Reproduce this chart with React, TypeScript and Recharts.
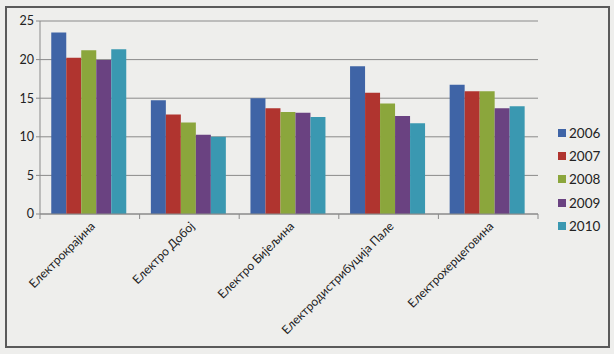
import { Bar, BarChart, CartesianGrid, XAxis, YAxis } from "recharts";

const CATEGORIES = [
  "Електрокрајина",
  "Електро Добој",
  "Електро Бијељина",
  "Електродистрибуција Пале",
  "Електрохерцеговина",
];

const YEARS = ["2006", "2007", "2008", "2009", "2010"];

const V2006 = [23.5, 14.75, 15.0, 19.15, 16.75];
const V2007 = [20.25, 12.9, 13.7, 15.7, 15.9];
const V2008 = [21.2, 11.85, 13.2, 14.3, 15.9];
const V2009 = [19.95, 10.25, 13.1, 12.7, 13.7];
const V2010 = [21.35, 10.0, 12.55, 11.75, 13.95];

const Y_TICKS = [0, 5, 10, 15, 20, 25];

const COLORS = ["#3f64a6", "#b0342f", "#8ba63c", "#6a4281", "#3a98b1"];

const SERIES = [V2006, V2007, V2008, V2009, V2010];

const data = CATEGORIES.map((name, i) => {
  const row: Record<string, string | number> = { name };
  YEARS.forEach((y, s) => {
    row[y] = SERIES[s][i];
  });
  return row;
});

const W = 614;
const H = 354;
const MARGIN = { top: 21, right: 76, bottom: 0, left: 10 };
const Y_WIDTH = 30;
const PLOT_W = W - MARGIN.left - MARGIN.right - Y_WIDTH;
const BAND = PLOT_W / CATEGORIES.length;

const AXIS = "#8a8a8a";
const FONT = "Lato, 'DejaVu Sans', sans-serif";

function CategoryTick(props: any) {
  const { x, y, payload, index } = props;
  const left = x - BAND / 2;
  const tx = x + 6;
  const ty = y + 5;
  return (
    <g>
      <line x1={left} x2={left} y1={y - 8} y2={y - 3} stroke={AXIS} />
      {index === CATEGORIES.length - 1 && (
        <line x1={x + BAND / 2} x2={x + BAND / 2} y1={y - 8} y2={y - 3} stroke={AXIS} />
      )}
      <text
        x={tx}
        y={ty}
        textAnchor="end"
        fontSize={12}
        fill="#222"
        fontFamily={FONT}
        transform={`rotate(-45 ${tx} ${ty})`}
      >
        {payload.value}
      </text>
    </g>
  );
}

export default function App() {
  return (
    <div
      style={{
        position: "absolute",
        left: 0,
        top: 0,
        width: W,
        height: H,
        background: "#eeeeec",
        fontFamily: FONT,
      }}
    >
      <div
        style={{
          position: "absolute",
          left: 5,
          top: 6,
          width: 601,
          height: 338,
          border: "2px solid #5a5a5a",
        }}
      />
      <div style={{ position: "absolute", left: 0, top: 0 }}>
        <BarChart
          width={W}
          height={H}
          data={data}
          margin={MARGIN}
          barCategoryGap="11.3%"
          barGap={0}
        >
          <CartesianGrid stroke={AXIS} vertical={false} />
          <XAxis
            dataKey="name"
            interval={0}
            height={140}
            tickLine={false}
            axisLine={{ stroke: AXIS }}
            tick={<CategoryTick />}
          />
          <YAxis
            width={Y_WIDTH}
            domain={[0, 25]}
            ticks={Y_TICKS}
            tickSize={4}
            tickLine={{ stroke: AXIS }}
            axisLine={{ stroke: AXIS }}
            tick={{ fontSize: 12.5, fill: "#222", fontFamily: FONT }}
          />
          {YEARS.map((y, s) => (
            <Bar key={y} dataKey={y} fill={COLORS[s]} isAnimationActive={false} />
          ))}
        </BarChart>
      </div>
      <div style={{ position: "absolute", left: 558, top: 121 }}>
        {YEARS.map((y, s) => (
          <div
            key={y}
            style={{ display: "flex", alignItems: "center", height: 23.4, fontSize: 13.5, color: "#222" }}
          >
            <span
              style={{ width: 8, height: 8, background: COLORS[s], marginRight: 3, display: "inline-block" }}
            />
            {y}
          </div>
        ))}
      </div>
    </div>
  );
}
